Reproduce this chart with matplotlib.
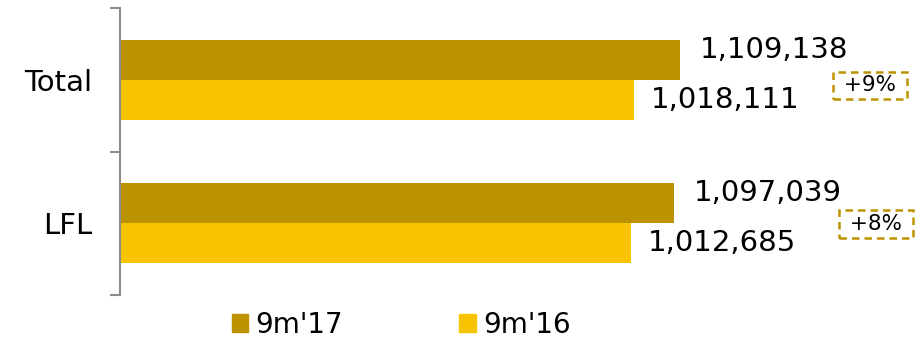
import matplotlib
matplotlib.use('Agg')
from matplotlib import pyplot as plt
from matplotlib.patches import Patch

# Sales figures per group
categories = ['Total', 'LFL']
values_17 = [1109138, 1097039]
values_16 = [1018111, 1012685]
series_names = ["9m'17", "9m'16"]

dark = '#BC9200'
light = '#F8C400'

plt.rcParams['font.family'] = ['DejaVu Sans']

fig = plt.figure(figsize=(9.2, 3.4), dpi=100)
ax = fig.add_axes([120 / 920, 1 - 295 / 340, 800 / 920, 287 / 340])

pos = list(range(len(categories)))
h = 0.28
ax.barh([p - h / 2 for p in pos], values_17, height=h, color=dark)
ax.barh([p + h / 2 for p in pos], values_16, height=h, color=light)

# value labels at the end of each bar
for p, v17, v16 in zip(pos, values_17, values_16):
    ax.annotate(f'{v17:,}', (v17, p - h / 2), xytext=(14, 7), textcoords='offset points',
                va='center', ha='left', fontsize=21, color='black')
    ax.annotate(f'{v16:,}', (v16, p + h / 2), xytext=(12, 0), textcoords='offset points',
                va='center', ha='left', fontsize=21, color='black')

# growth boxes
growth_x = [0.9375, 0.945]
growth_dy = [0.04, 0.005]
for p, v17, v16, gx, dy in zip(pos, values_17, values_16, growth_x, growth_dy):
    pct = round((v17 / v16 - 1) * 100)
    ax.text(gx, p + dy, f' +{pct}% ', transform=ax.get_yaxis_transform(),
            ha='center', va='center', fontsize=15.5, color='black',
            bbox=dict(boxstyle='square,pad=0.18', fc='white', ec=dark,
                      lw=1.8, ls=(0, (3, 2))))

ax.set_xlim(0, 1584483)
ax.set_ylim(1.5, -0.5)

for s in ['top', 'right', 'bottom']:
    ax.spines[s].set_visible(False)
ax.spines['left'].set_color('#8c8c8c')
ax.spines['left'].set_linewidth(1.5)
ax.set_xticks([])
ax.set_yticks(pos)
ax.set_yticklabels(categories, fontsize=21)
ax.tick_params(axis='y', which='major', length=0, pad=20)
ax.set_yticks([-0.5, 0.5, 1.5], minor=True)
ax.tick_params(axis='y', which='minor', length=7, width=1.5, color='#8c8c8c')

handles = [Patch(color=dark), Patch(color=light)]
fig.legend(handles, series_names, loc='center', bbox_to_anchor=(0.436, 0.044),
           ncol=2, frameon=False, fontsize=20, handlelength=0.6, handleheight=0.6,
           handletextpad=0.25, columnspacing=4.2)

fig.savefig('out.png', dpi=100, facecolor='white')
